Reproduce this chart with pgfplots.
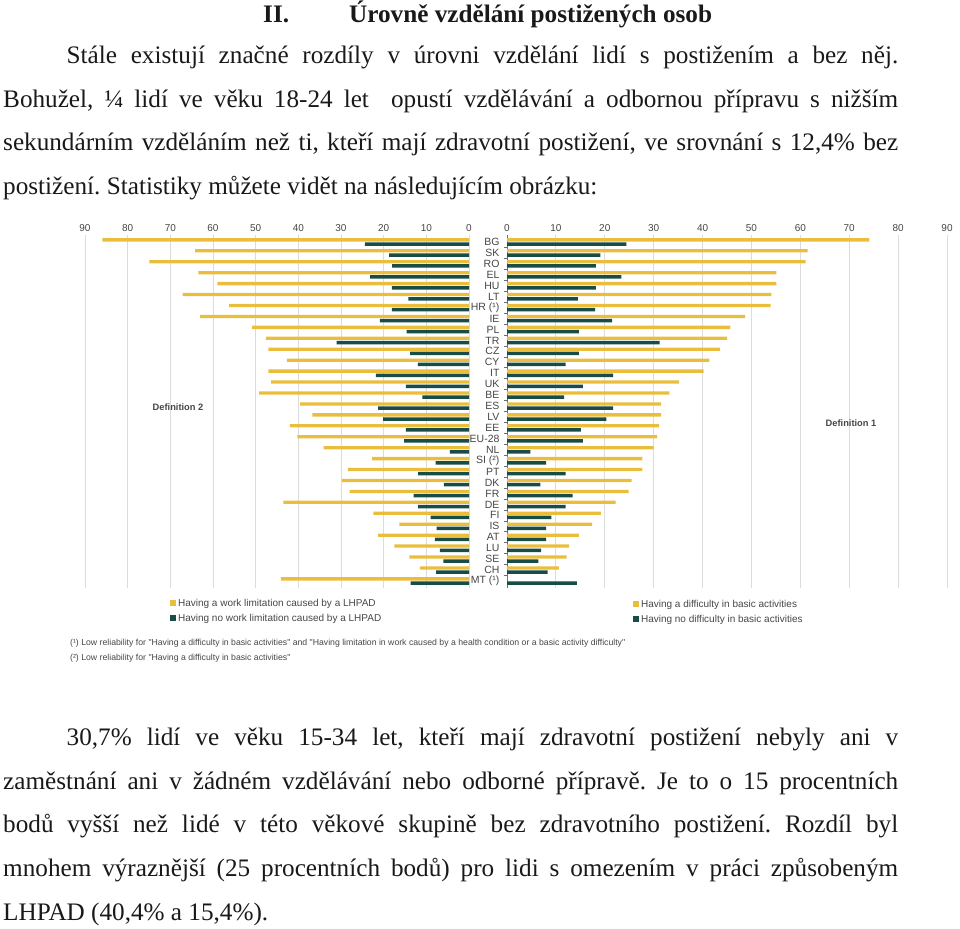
\documentclass[border=0pt]{standalone}
\usepackage{pgfplots}
\usepackage{pgfplotstable}
\pgfplotsset{compat=1.18}
\usepackage{fontspec}
\setmainfont{Liberation Serif}
\newfontfamily\chartfont{Liberation Sans}
\frenchspacing
\definecolor{barY}{RGB}{234,190,60}
\definecolor{barT}{RGB}{24,77,71}
\definecolor{txt}{RGB}{25,25,25}
\definecolor{gridc}{RGB}{220,220,220}
\definecolor{ctxt}{RGB}{70,70,70}
\newcommand\bodyfont{\fontsize{25.2}{30}\selectfont}
\newcommand\cf{\chartfont\fontsize{10}{12}\selectfont}

\pgfplotstableread{
y L1 L2 R1 R2
31 85.9 24.4 74.1 24.4
30 64.2 18.7 61.5 19.1
29 74.9 18.0 61.1 18.2
28 63.4 23.2 55.1 23.4
27 59.0 18.1 55.1 18.2
26 67.1 14.2 54.1 14.5
25 56.2 18.1 53.9 18.0
24 63.0 20.9 48.7 21.5
23 50.9 14.6 45.7 14.7
22 47.6 31.0 45.0 31.2
21 47.0 13.8 43.6 14.7
20 42.7 12.0 41.4 12.0
19 47.0 21.8 40.2 21.7
18 46.4 14.8 35.2 15.5
17 49.2 10.9 33.2 11.7
16 39.6 21.3 31.5 21.7
15 36.7 20.1 31.5 20.3
14 42.0 14.8 31.1 15.1
13 40.2 15.2 30.7 15.5
12 34.1 4.5 30.0 4.8
11 22.7 7.8 27.7 8.0
10 28.4 11.9 27.7 12.0
9 29.8 5.9 25.5 6.8
8 28.0 13.0 24.9 13.4
7 43.5 11.9 22.2 12.0
6 22.4 9.0 19.2 9.1
5 16.3 7.6 17.4 8.0
4 21.3 8.0 14.7 8.0
3 17.5 6.8 12.7 7.0
2 14.0 6.0 12.2 6.4
1 11.5 7.7 10.6 8.3
0 44.1 13.7 0 14.3
}\data

\pgfplotsset{
  butterfly/.style={
    scale only axis, height=353pt, ymin=-0.64, ymax=31.64, xmin=0, xmax=90,
    xbar,
    xtick={0,10,...,90}, xmajorgrids, grid style={gridc, line width=0.8pt},
    axis x line*=top, x axis line style={draw=none}, xtick style={draw=none},
    xticklabel style={font=\cf, text=ctxt},
    /pgf/number format/assume math mode=true,
    legend style={draw=none, fill=none, font=\cf, text=ctxt, cells={anchor=west}, row sep=2pt, inner sep=0pt},
    legend cell align=left,
  }
}

\begin{document}
\begin{tikzpicture}[x=1pt,y=1pt]
\path[use as bounding box] (0,0) rectangle (960,928);

% heading
\node[anchor=base west, inner sep=0, font=\bodyfont\bfseries, text=txt] at (263,905) {II.};
\node[anchor=base west, inner sep=0, font=\bodyfont\bfseries, text=txt] at (349,905) {Úrovně vzdělání postižených osob};

% first paragraph
\node[anchor=base west, inner sep=0, font=\bodyfont, text=txt] at (66.5,864) {\makebox[831.5pt][s]{Stále existují značné rozdíly v úrovni vzdělání lidí s postižením a bez něj.}};
\node[anchor=base west, inner sep=0, font=\bodyfont, text=txt] at (3,820.5) {\makebox[895pt][s]{Bohužel, ¼ lidí ve věku 18-24 let\ \ opustí vzdělávání a odbornou přípravu s nižším}};
\node[anchor=base west, inner sep=0, font=\bodyfont, text=txt] at (3,777) {\makebox[895pt][s]{sekundárním vzděláním než ti, kteří mají zdravotní postižení, ve srovnání s 12,4\% bez}};
\node[anchor=base west, inner sep=0, font=\bodyfont, text=txt] at (3,733.5) {postižení. Statistiky můžete vidět na následujícím obrázku:};

% second paragraph
\node[anchor=base west, inner sep=0, font=\bodyfont, text=txt] at (66.5,182) {\makebox[831.5pt][s]{30,7\% lidí ve věku 15-34 let, kteří mají zdravotní postižení nebyly ani v}};
\node[anchor=base west, inner sep=0, font=\bodyfont, text=txt] at (3,138.5) {\makebox[895pt][s]{zaměstnání ani v žádném vzdělávání nebo odborné přípravě. Je to o 15 procentních}};
\node[anchor=base west, inner sep=0, font=\bodyfont, text=txt] at (3,95) {\makebox[895pt][s]{bodů vyšší než lidé v této věkové skupině bez zdravotního postižení. Rozdíl byl}};
\node[anchor=base west, inner sep=0, font=\bodyfont, text=txt] at (3,51.5) {\makebox[895pt][s]{mnohem výraznější (25 procentních bodů) pro lidi s omezením v práci způsobeným}};
\node[anchor=base west, inner sep=0, font=\bodyfont, text=txt] at (3,8) {LHPAD (40,4\% a 15,4\%).};

% left panel: Definition 2
\begin{axis}[butterfly, at={(85pt,340pt)}, anchor=south west, width=384pt,
  x dir=reverse, axis y line*=right, y axis line style={draw=none}, ytick=\empty,
  legend style={at={(axis description cs:0.221,-0.025)}, anchor=north west},
  legend image code/.code={\fill[#1,draw=none] (0pt,-3pt) rectangle (6pt,3pt);}]
\addplot[fill=barY, draw=none, bar width=3.3pt, bar shift=2.1pt] table[x=L1,y=y]{\data};
\addplot[fill=barT, draw=none, bar width=3.5pt, bar shift=-2.1pt] table[x=L2,y=y]{\data};
\legend{Having a work limitation caused by a LHPAD, Having no work limitation caused by a LHPAD}
\end{axis}

% right panel: Definition 1
\begin{axis}[butterfly, at={(507pt,340pt)}, anchor=south west, width=440pt,
  axis y line*=left, y axis line style={draw=ctxt!80, line width=0.6pt},
  ytick={0,...,31},
  yticklabels={MT (¹), CH, SE, LU, AT, IS, FI, DE, FR, DK, PT, SI (²), NL, EU-28, EE, LV, ES, BE, UK, IT, CY, CZ, TR, PL, IE, HR (¹), LT, HU, EL, RO, SK, BG},
  yticklabel style={font=\chartfont\fontsize{10.5}{11}\selectfont, text=ctxt, xshift=-4pt},
  major tick length=0pt, minor y tick num=1, minor tick length=3pt, tick align=outside,
  ytick style={draw=ctxt!80, line width=0.6pt},
  legend style={at={(axis description cs:0.286,-0.028)}, anchor=north west},
  legend image code/.code={\fill[#1,draw=none] (0pt,-3pt) rectangle (6pt,3pt);}]
\addplot[fill=barY, draw=none, bar width=3.3pt, bar shift=2.1pt] table[x=R1,y=y]{\data};
\addplot[fill=barT, draw=none, bar width=3.5pt, bar shift=-2.1pt] table[x=R2,y=y]{\data};
\legend{Having a difficulty in basic activities, Having no difficulty in basic activities}
\end{axis}

% panel labels
\node[font=\chartfont\bfseries\fontsize{9.3}{11}\selectfont, text=ctxt] at (178,521) {Definition 2};
\node[font=\chartfont\bfseries\fontsize{9.3}{11}\selectfont, text=ctxt] at (851,505) {Definition 1};

% footnotes
\node[anchor=base west, inner sep=0, font=\chartfont\fontsize{8.7}{10}\selectfont, text=ctxt] at (70,282) {(¹) Low reliability for "Having a difficulty in basic activities" and "Having limitation in work caused by a health condition or a basic activity difficulty"};
\node[anchor=base west, inner sep=0, font=\chartfont\fontsize{8.7}{10}\selectfont, text=ctxt] at (70,267) {(²) Low reliability for "Having a difficulty in basic activities"};
\end{tikzpicture}
\end{document}
